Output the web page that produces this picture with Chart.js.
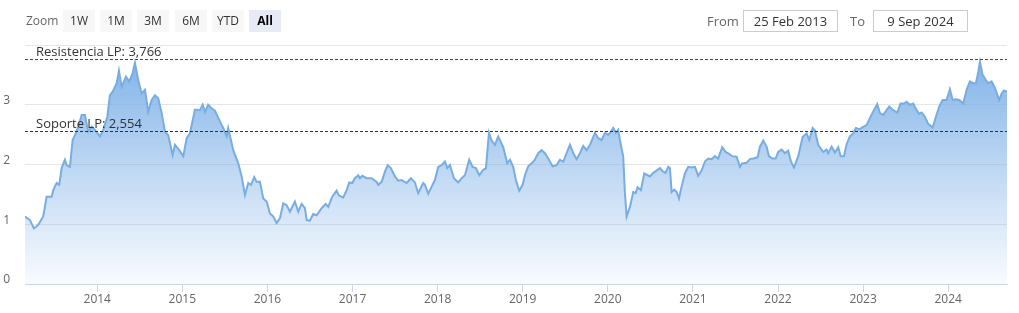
<!DOCTYPE html>
<html>
<head>
<meta charset="utf-8">
<title>Chart</title>
<script src="https://cdn.jsdelivr.net/npm/chart.js@4.4.1/dist/chart.umd.min.js"></script>
<style>
  body { margin: 0; background: #fff; font-family: "Open Sans", sans-serif; }
  #wrap { position: relative; width: 1019px; height: 313px; overflow: hidden; }
  #chart { position: absolute; left: 0; top: 0; }
  .lbl { position: absolute; top: 10px; height: 22px; line-height: 22px; color: #666; font-size: 12px; }
  .btn { position: absolute; top: 10px; width: 32px; height: 22px; line-height: 22px; text-align: center;
         background: #f7f7f7; color: #333; font-size: 12px; }
  .btn.on { background: #e6ebf5; color: #000; font-weight: bold; }
  .box { position: absolute; top: 10px; width: 93px; height: 20px; line-height: 20px; border: 1px solid #ccc;
         text-align: center; color: #333; font-size: 13px; }
</style>
</head>
<body>
<div id="wrap">
  <canvas id="chart" width="1019" height="313"></canvas>
  <div class="lbl" style="left:26px">Zoom</div>
  <div class="btn" style="left:63px">1W</div>
  <div class="btn" style="left:100px">1M</div>
  <div class="btn" style="left:137px">3M</div>
  <div class="btn" style="left:175px">6M</div>
  <div class="btn" style="left:212px">YTD</div>
  <div class="btn on" style="left:249px">All</div>
  <div class="lbl" style="left:707px;font-size:13px">From</div>
  <div class="box" style="left:743px">25 Feb 2013</div>
  <div class="lbl" style="left:850px;font-size:13px">To</div>
  <div class="box" style="left:873px">9 Sep 2024</div>
</div>
<script>
// fechas en años decimales
const dates = [
  2013.151, 2013.209, 2013.256, 2013.307, 2013.365, 2013.405, 2013.464, 2013.483, 2013.523, 2013.553,
  2013.582, 2013.620, 2013.640, 2013.679, 2013.711, 2013.738, 2013.777, 2013.817, 2013.855, 2013.894,
  2013.934, 2013.973, 2014.032, 2014.071, 2014.118, 2014.149, 2014.181, 2014.228, 2014.255, 2014.287,
  2014.337, 2014.376, 2014.416, 2014.443, 2014.482, 2014.522, 2014.561, 2014.599, 2014.639, 2014.678,
  2014.717, 2014.757, 2014.796, 2014.834, 2014.886, 2014.913, 2014.964, 2015.011, 2015.051, 2015.089,
  2015.148, 2015.207, 2015.239, 2015.266, 2015.304, 2015.344, 2015.383, 2015.462, 2015.481, 2015.521,
  2015.539, 2015.598, 2015.657, 2015.697, 2015.736, 2015.774, 2015.806, 2015.845, 2015.873, 2015.912,
  2015.951, 2015.991, 2016.029, 2016.068, 2016.108, 2016.147, 2016.186, 2016.226, 2016.264, 2016.323,
  2016.362, 2016.402, 2016.441, 2016.461, 2016.499, 2016.538, 2016.578, 2016.637, 2016.684, 2016.715,
  2016.761, 2016.813, 2016.840, 2016.891, 2016.931, 2016.961, 2016.997, 2017.028, 2017.067, 2017.087,
  2017.114, 2017.166, 2017.224, 2017.283, 2017.302, 2017.342, 2017.381, 2017.413, 2017.451, 2017.498,
  2017.537, 2017.577, 2017.636, 2017.686, 2017.733, 2017.772, 2017.831, 2017.851, 2017.890, 2017.930,
  2017.968, 2018.007, 2018.047, 2018.086, 2018.113, 2018.145, 2018.192, 2018.242, 2018.282, 2018.321,
  2018.371, 2018.411, 2018.450, 2018.489, 2018.529, 2018.568, 2018.603, 2018.635, 2018.673, 2018.712,
  2018.771, 2018.818, 2018.850, 2018.888, 2018.920, 2018.959, 2018.999, 2019.026, 2019.065, 2019.105,
  2019.143, 2019.182, 2019.222, 2019.261, 2019.300, 2019.351, 2019.398, 2019.437, 2019.476, 2019.516,
  2019.555, 2019.594, 2019.633, 2019.672, 2019.711, 2019.751, 2019.790, 2019.849, 2019.887, 2019.927,
  2019.966, 2020.005, 2020.037, 2020.064, 2020.095, 2020.122, 2020.142, 2020.181, 2020.201, 2020.221,
  2020.260, 2020.299, 2020.327, 2020.350, 2020.389, 2020.428, 2020.468, 2020.495, 2020.534, 2020.573,
  2020.612, 2020.651, 2020.679, 2020.710, 2020.730, 2020.750, 2020.780, 2020.809, 2020.836, 2020.867,
  2020.906, 2020.945, 2020.985, 2021.024, 2021.062, 2021.102, 2021.141, 2021.180, 2021.220, 2021.259,
  2021.297, 2021.344, 2021.384, 2021.423, 2021.462, 2021.514, 2021.552, 2021.579, 2021.631, 2021.670,
  2021.709, 2021.760, 2021.788, 2021.826, 2021.866, 2021.893, 2021.932, 2021.972, 2022.002, 2022.042,
  2022.081, 2022.120, 2022.152, 2022.187, 2022.238, 2022.289, 2022.336, 2022.367, 2022.407, 2022.434,
  2022.472, 2022.531, 2022.571, 2022.590, 2022.630, 2022.669, 2022.708, 2022.736, 2022.775, 2022.806,
  2022.845, 2022.884, 2022.916, 2022.954, 2023.001, 2023.041, 2023.088, 2023.127, 2023.166, 2023.198,
  2023.236, 2023.276, 2023.307, 2023.354, 2023.401, 2023.441, 2023.480, 2023.511, 2023.550, 2023.589,
  2023.629, 2023.659, 2023.688, 2023.726, 2023.765, 2023.817, 2023.856, 2023.894, 2023.934, 2023.981,
  2024.020, 2024.052, 2024.091, 2024.130, 2024.177, 2024.216, 2024.255, 2024.294, 2024.326, 2024.353,
  2024.373, 2024.405, 2024.432, 2024.470, 2024.510, 2024.549, 2024.600, 2024.628, 2024.655, 2024.691
];
const prices = [
  1.13, 1.07, 0.93, 0.99, 1.13, 1.46, 1.46, 1.57, 1.69, 1.66,
  1.94, 2.08, 1.99, 1.96, 2.41, 2.49, 2.63, 2.83, 2.83, 2.55,
  2.63, 2.58, 2.47, 2.58, 2.80, 3.16, 3.22, 3.36, 3.57, 3.30,
  3.47, 3.39, 3.53, 3.70, 3.41, 3.19, 3.25, 2.88, 3.08, 3.16,
  3.11, 2.86, 2.55, 2.49, 2.16, 2.33, 2.24, 2.14, 2.44, 2.52,
  2.92, 2.91, 3.00, 2.88, 3.00, 2.94, 2.90, 2.66, 2.61, 2.47,
  2.61, 2.24, 2.02, 1.80, 1.49, 1.69, 1.66, 1.79, 1.71, 1.71,
  1.43, 1.38, 1.18, 1.13, 1.02, 1.10, 1.35, 1.32, 1.21, 1.38,
  1.21, 1.34, 1.27, 1.07, 1.06, 1.17, 1.15, 1.27, 1.34, 1.29,
  1.46, 1.56, 1.48, 1.45, 1.57, 1.70, 1.69, 1.77, 1.82, 1.77,
  1.81, 1.77, 1.77, 1.71, 1.66, 1.71, 1.88, 1.99, 1.94, 1.80,
  1.73, 1.74, 1.69, 1.77, 1.70, 1.52, 1.69, 1.66, 1.51, 1.63,
  1.74, 1.96, 1.99, 2.05, 1.94, 1.99, 1.77, 1.70, 1.77, 1.82,
  2.08, 1.96, 1.94, 1.82, 1.90, 1.94, 2.53, 2.40, 2.33, 2.47,
  2.29, 2.02, 2.08, 1.96, 1.74, 1.56, 1.66, 1.82, 1.97, 2.02,
  2.08, 2.19, 2.24, 2.19, 2.10, 1.97, 1.99, 2.08, 2.05, 2.19,
  2.33, 2.19, 2.09, 2.19, 2.31, 2.24, 2.33, 2.53, 2.44, 2.41,
  2.53, 2.50, 2.55, 2.61, 2.53, 2.58, 2.41, 2.13, 1.52, 1.13,
  1.29, 1.54, 1.52, 1.62, 1.57, 1.85, 1.82, 1.80, 1.86, 1.90,
  1.94, 1.88, 1.86, 1.96, 1.94, 1.54, 1.58, 1.54, 1.43, 1.63,
  1.85, 1.96, 1.95, 1.96, 1.81, 1.90, 2.05, 2.10, 2.09, 2.14,
  2.10, 2.29, 2.21, 2.18, 2.14, 2.13, 1.96, 2.02, 2.03, 2.09,
  2.10, 2.12, 2.30, 2.40, 2.30, 2.14, 2.10, 2.10, 2.21, 2.25,
  2.19, 2.23, 2.05, 1.95, 2.14, 2.46, 2.52, 2.41, 2.61, 2.57,
  2.33, 2.21, 2.25, 2.19, 2.30, 2.20, 2.29, 2.14, 2.14, 2.34,
  2.47, 2.52, 2.61, 2.59, 2.63, 2.66, 2.80, 2.91, 3.01, 2.86,
  2.83, 2.91, 2.97, 2.91, 2.87, 3.02, 3.02, 3.05, 3.00, 3.02,
  2.91, 2.85, 2.87, 2.80, 2.68, 2.62, 2.80, 2.97, 3.08, 3.08,
  3.26, 3.08, 3.09, 3.08, 3.02, 3.25, 3.39, 3.36, 3.36, 3.55,
  3.72, 3.50, 3.44, 3.36, 3.39, 3.28, 3.08, 3.19, 3.24, 3.22
];
const yearTicks = [2014, 2015, 2016, 2017, 2018, 2019, 2020, 2021, 2022, 2023, 2024];
const valueTicks = [0, 1, 2, 3, 4];
const valueTickLabels = ['0', '1', '2', '3', ''];
const levelValues = [3.766, 2.554];
const levelLabels = ['Resistencia LP: 3,766', 'Soporte LP: 2,554'];
const levelColors = ['#0f6a0f', '#7a0f2a'];

const plotLines = {
  id: 'plotLines',
  afterDatasetsDraw(chart) {
    const { ctx, chartArea: a, scales: { y } } = chart;
    levelValues.forEach((v, i) => {
      const py = Math.round(y.getPixelForValue(v)) + 0.5;
      ctx.save();
      ctx.strokeStyle = levelColors[i];
      ctx.lineWidth = 1;
      ctx.setLineDash([3, 2]);
      ctx.beginPath();
      ctx.moveTo(a.left, py);
      ctx.lineTo(a.right, py);
      ctx.stroke();
      ctx.setLineDash([]);
      ctx.fillStyle = '#333';
      ctx.font = '13px "Open Sans"';
      ctx.textBaseline = 'alphabetic';
      ctx.fillText(levelLabels[i], a.left + 11, py - 3.5);
      ctx.restore();
    });
  }
};

new Chart(document.getElementById('chart'), {
  type: 'line',
  data: {
    datasets: [{
      data: dates.map((d, i) => ({ x: d, y: prices[i] })),
      borderColor: '#78ade2',
      borderWidth: 2,
      pointRadius: 0,
      tension: 0,
      fill: 'origin',
      backgroundColor: (c) => {
        const a = c.chart.chartArea;
        if (!a) return 'rgba(124,176,232,0.5)';
        const g = c.chart.ctx.createLinearGradient(0, a.top, 0, a.bottom);
        g.addColorStop(0, 'rgba(116,170,228,0.95)');
        g.addColorStop(1, 'rgba(124,176,232,0.05)');
        return g;
      }
    }]
  },
  options: {
    responsive: false,
    animation: false,
    layout: { padding: { top: 45, right: 12, left: 0, bottom: 0 } },
    plugins: { legend: { display: false }, tooltip: { enabled: false } },
    scales: {
      x: {
        type: 'linear',
        min: 2013.151,
        max: 2024.691,
        afterBuildTicks: (s) => { s.ticks = yearTicks.map(v => ({ value: v })); },
        afterFit: (s) => { s.height = 29; },
        ticks: {
          callback: (v) => String(v),
          color: '#666',
          font: { family: 'Open Sans', size: 12 },
          padding: 0,
          maxRotation: 0,
          autoSkip: false
        },
        grid: { drawOnChartArea: false, tickLength: 8, color: '#ccd6eb' },
        border: { color: '#ccd6eb' }
      },
      y: {
        min: 0,
        max: 4,
        afterBuildTicks: (s) => { s.ticks = valueTicks.map(v => ({ value: v })); },
        afterFit: (s) => { s.width = 25; },
        ticks: {
          callback: (v, i) => valueTickLabels[i],
          color: '#666',
          font: { family: 'Open Sans', size: 12 },
          padding: 15,
          labelOffset: -4
        },
        grid: { color: '#e6e6e6', drawTicks: false },
        border: { display: false }
      }
    }
  },
  plugins: [plotLines]
});
</script>
</body>
</html>
